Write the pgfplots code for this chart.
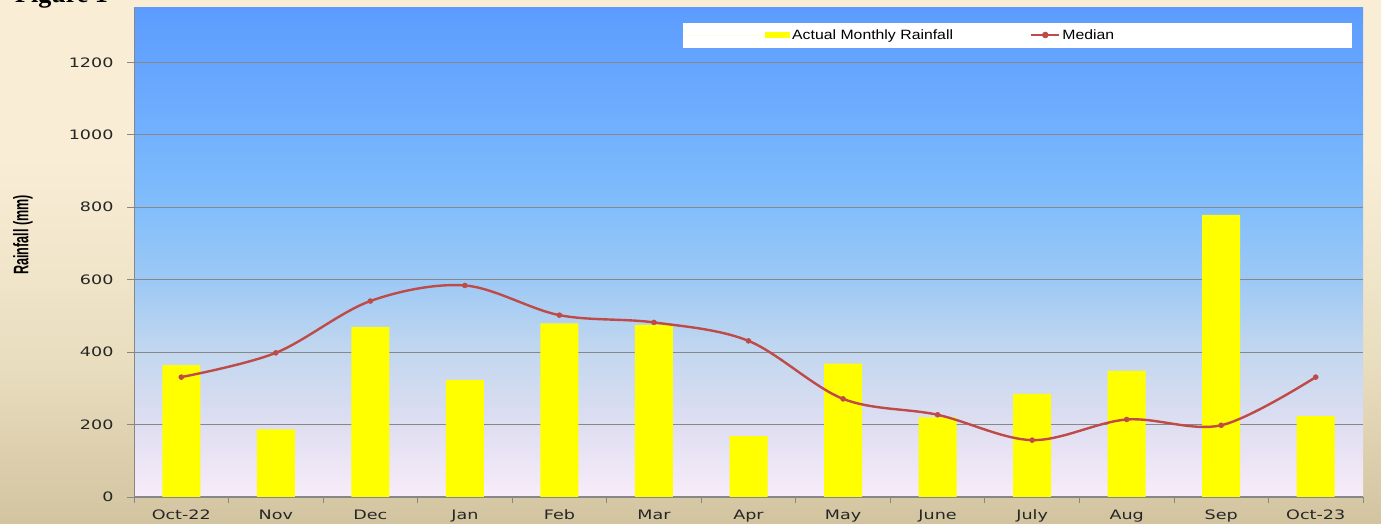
\documentclass[border=0pt]{standalone}
\usepackage{fontspec}
\usepackage{pgfplots}
\pgfplotsset{compat=1.18}
\setmainfont{Liberation Sans}
\newfontfamily\tickfont{DejaVu Sans}[FakeStretch=1.35]
\newfontfamily\legfont{Liberation Sans}[FakeStretch=1.17]
\newfontfamily\ylabfont{Liberation Sans}[FakeStretch=0.6]
\newfontfamily\figfont{Liberation Serif}

\definecolor{bg0}{HTML}{F8ECF9}
\definecolor{bg1}{HTML}{DEDEF1}
\definecolor{bg2}{HTML}{C2D7EF}
\definecolor{bg3}{HTML}{9EC9F5}
\definecolor{bg4}{HTML}{82BEFB}
\definecolor{bg5}{HTML}{72B1FD}
\definecolor{bg6}{HTML}{5C9CFE}
\definecolor{ob0}{HTML}{D3C4A0}
\definecolor{ob1}{HTML}{E9DDBF}
\definecolor{ob2}{HTML}{F9EDD6}
\definecolor{axgray}{HTML}{878787}
\definecolor{medred}{HTML}{BE4B48}
\definecolor{barylw}{HTML}{FFFF00}

\pgfdeclareverticalshading{plotbg}{100bp}{color(0bp)=(bg0); color(25bp)=(bg0); color(32.5bp)=(bg1); color(40bp)=(bg2); color(47bp)=(bg3); color(54.5bp)=(bg4); color(62bp)=(bg5); color(75bp)=(bg6); color(100bp)=(bg6)}
\pgfdeclareverticalshading{outerbg}{100bp}{color(0bp)=(ob0); color(25bp)=(ob0); color(40bp)=(ob1); color(60bp)=(ob2); color(75bp)=(ob2); color(100bp)=(ob2)}

\pgfplotstableread{
x rain median
0 364 331
1 187 398
2 470 541
3 323 584
4 479 502
5 475 482
6 168 431
7 368 271
8 220 227
9 285 157
10 348 214
11 779 198
12 223 331
}\raindata

\begin{document}
\begin{tikzpicture}
\shade[shading=outerbg] (0pt,0pt) rectangle (1381pt,524pt);
\node[anchor=base west, font=\figfont\bfseries\fontsize{26}{26}\selectfont, text=black, inner sep=0pt] at (15pt,521pt) {Figure 1};
\begin{axis}[
  at={(134pt,27pt)}, anchor=south west,
  scale only axis, width=1229pt, height=489pt,
  xmin=-0.5, xmax=12.5, ymin=0, ymax=1350,
  axis lines*=left,
  axis line style={axgray, line width=1pt, -},
  axis background/.style={shading=plotbg},
  xtick={0,...,12},
  xticklabels={Oct-22,Nov,Dec,Jan,Feb,Mar,Apr,May,June,July,Aug,Sep,Oct-23},
  minor xtick={-0.5,0.5,...,12.5},
  major x tick style={draw=none},
  minor x tick style={draw=axgray, line width=0.8pt},
  ytick={0,200,...,1200},
  y tick style={draw=axgray, line width=0.8pt},
  ymajorgrids,
  grid style={axgray, line width=0.9pt},
  tick align=outside,
  major tick length=7pt, minor tick length=6pt,
  /pgf/number format/assume math mode=true,
  /pgf/number format/1000 sep={},
  ticklabel style={font=\tickfont\fontsize{13}{13}\selectfont, text=black!85},
  yticklabel style={xshift=-10pt},
  xticklabel style={yshift=-2pt},
  ylabel={\bfseries Rainfall (mm)},
  ylabel style={font=\ylabfont\fontsize{21}{21}\selectfont, at={(axis description cs:-0.0903,0.536)}, anchor=center},
  legend columns=2,
  legend cell align=left,
  legend style={at={(axis description cs:0.4467,0.969)}, anchor=north west, fill=white, draw=none,
    inner xsep=0pt, inner ysep=4.5pt, font=\legfont\fontsize{13.5}{13.5}\selectfont,
    nodes={text width=236pt, inner xsep=2pt, inner ysep=2pt}},
]
\addplot[ybar, bar width=38pt, fill=barylw, draw=none,
  legend image code/.code={\path (0pt,0pt) -- (81pt,0pt); \fill[barylw] (82pt,-2.5pt) rectangle (107pt,3.5pt);}]
  table[x=x, y=rain] {\raindata};
\addlegendentry{Actual Monthly Rainfall}
\addplot[color=medred, line width=2.4pt, smooth, tension=0.55, mark=*, mark size=2.5pt,
  mark options={fill=medred, draw=medred, line width=0.5pt},
  legend image code/.code={\draw[medred, line width=2.2pt] (0pt,0.5pt) -- (28pt,0.5pt); \fill[medred] (14pt,0.5pt) circle (2pt);}]
  table[x=x, y=median] {\raindata};
\addlegendentry[text width=288pt]{Median}
\end{axis}
\pgfresetboundingbox
\useasboundingbox (0pt,0pt) rectangle (1381pt,524pt);
\end{tikzpicture}
\end{document}
